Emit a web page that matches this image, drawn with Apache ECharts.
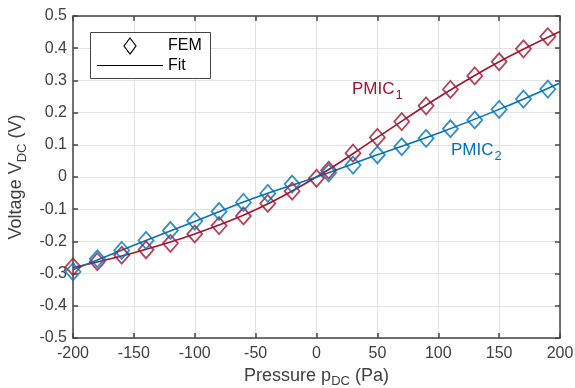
<!DOCTYPE html>
<html><head><meta charset="utf-8">
<script src="https://cdn.jsdelivr.net/npm/echarts@6/dist/echarts.min.js"></script>
<style>html,body{margin:0;padding:0;background:#fff;overflow:hidden}#c{width:575px;height:388px}</style>
</head><body><div id="c"></div>
<script>
// FEM data points
const xPmic1 = [-200,-180,-160,-140,-120,-100,-80,-60,-40,-20,0,10,30,50,70,90,110,130,150,170,190];
const yPmic1 = [-0.279,-0.263,-0.243,-0.226,-0.206,-0.177,-0.151,-0.121,-0.082,-0.044,-0.004,0.021,0.074,0.123,0.172,0.221,0.272,0.314,0.358,0.398,0.436];
const xPmic2 = [-200,-180,-160,-140,-120,-100,-80,-60,-40,-20,10,30,50,70,90,110,130,150,170,190];
const yPmic2 = [-0.294,-0.254,-0.228,-0.197,-0.166,-0.137,-0.107,-0.079,-0.051,-0.022,0.013,0.037,0.069,0.094,0.12,0.15,0.177,0.21,0.242,0.273];
// Fit curves
const xFit = [-200,-150,-100,-50,0,50,100,150,200];
const yFit1 = [-0.281,-0.235,-0.177,-0.102,0.0,0.123,0.247,0.358,0.452];
const yFit2 = [-0.288,-0.212,-0.138,-0.064,0.0,0.069,0.136,0.21,0.292];
const xTicks = {min:-200, max:200, interval:50};
const yTicks = {min:-0.5, max:0.5, interval:0.1};

const red = '#a2142f', blue = '#0072bd';
const font = 'Liberation Sans, Arial, Helvetica, sans-serif';
const pair = (xs, ys) => xs.map((x,i)=>[x, ys[i]]);

const chart = echarts.init(document.getElementById('c'), null, {renderer:'canvas', width:575, height:388});
const axisCommon = {
  axisLine:{show:true, onZero:false, lineStyle:{color:'#444', width:1.5}},
  axisTick:{show:true, inside:true, length:5, lineStyle:{color:'#444', width:1.5}},
  splitLine:{show:false}
};
chart.setOption({
  animation:false,
  grid:{left:73, right:15, top:16, bottom:50, containLabel:false, outerBoundsMode:'none'},
  xAxis:[
    Object.assign({type:'value', min:xTicks.min, max:xTicks.max, interval:xTicks.interval,
      name:'{a|Pressure p}{s|DC}{a| (Pa)}', nameLocation:'middle', nameGap:25,
      nameTextStyle:{rich:{a:{fontFamily:font, fontSize:18, color:'#404040'}, s:{fontFamily:font, fontSize:13, color:'#404040', padding:[12,0,0,0]}}},
      axisLabel:{fontFamily:font, fontSize:16, color:'#404040', margin:8}
    }, axisCommon, {splitLine:{show:true, lineStyle:{color:'#e3e3e3', width:1}}}),
    Object.assign({type:'value', position:'top', min:xTicks.min, max:xTicks.max, interval:xTicks.interval, axisLabel:{show:false}}, axisCommon)
  ],
  yAxis:[
    Object.assign({type:'value', min:yTicks.min, max:yTicks.max, interval:yTicks.interval,
      name:'{a|Voltage V}{s|DC}{a| (V)}', nameLocation:'middle', nameGap:42,
      nameTextStyle:{rich:{a:{fontFamily:font, fontSize:18, color:'#404040'}, s:{fontFamily:font, fontSize:13, color:'#404040', padding:[12,0,0,0]}}},
      axisLabel:{fontFamily:font, fontSize:16, color:'#404040', margin:6,
        formatter:v=>{const r=Math.round(v*10)/10; return r===0?'0':String(r);}}
    }, axisCommon, {splitLine:{show:true, lineStyle:{color:'#e3e3e3', width:1}}}),
    Object.assign({type:'value', position:'right', min:yTicks.min, max:yTicks.max, interval:yTicks.interval, axisLabel:{show:false}}, axisCommon)
  ],
  series:[
    {type:'line', data:pair(xFit,yFit1), smooth:0.4, showSymbol:false, lineStyle:{color:red, width:1.6}, z:2, silent:true},
    {type:'line', data:pair(xFit,yFit2), smooth:0.4, showSymbol:false, lineStyle:{color:blue, width:1.6}, z:2, silent:true},
    {type:'scatter', data:pair(xPmic1,yPmic1), symbol:'diamond', symbolSize:[15,17], itemStyle:{color:'rgba(0,0,0,0)', borderColor:red, borderWidth:1.8}, z:3},
    {type:'scatter', data:pair(xPmic2,yPmic2), symbol:'diamond', symbolSize:[15,17], itemStyle:{color:'rgba(0,0,0,0)', borderColor:blue, borderWidth:1.8}, z:3}
  ],
  graphic:[
    {type:'rect', shape:{x:90.5, y:32.5, width:120, height:46}, style:{fill:'#fff', stroke:'#444', lineWidth:1}, z:10},
    {type:'polygon', shape:{points:[[130,38],[136,46],[130,54],[124,46]]}, style:{fill:'none', stroke:'#000', lineWidth:1.2}, z:11},
    {type:'text', style:{x:168, y:46, text:'FEM', font:'16px '+font, fill:'#000', verticalAlign:'middle'}, z:11},
    {type:'line', shape:{x1:97, y1:65.5, x2:163, y2:65.5}, style:{stroke:'#000', lineWidth:1}, z:11},
    {type:'text', style:{x:168, y:66, text:'Fit', font:'16px '+font, fill:'#000', verticalAlign:'middle'}, z:11},
    {type:'text', z:11, style:{x:352, y:89, rich:{a:{fontFamily:font, fontSize:17, fill:red}, s:{fontFamily:font, fontSize:13, fill:red, padding:[12,0,0,1]}}, text:'{a|PMIC}{s|1}', verticalAlign:'middle'}},
    {type:'text', z:11, style:{x:451, y:150, rich:{a:{fontFamily:font, fontSize:17, fill:blue}, s:{fontFamily:font, fontSize:13, fill:blue, padding:[12,0,0,1]}}, text:'{a|PMIC}{s|2}', verticalAlign:'middle'}}
  ]
});
</script></body></html>
